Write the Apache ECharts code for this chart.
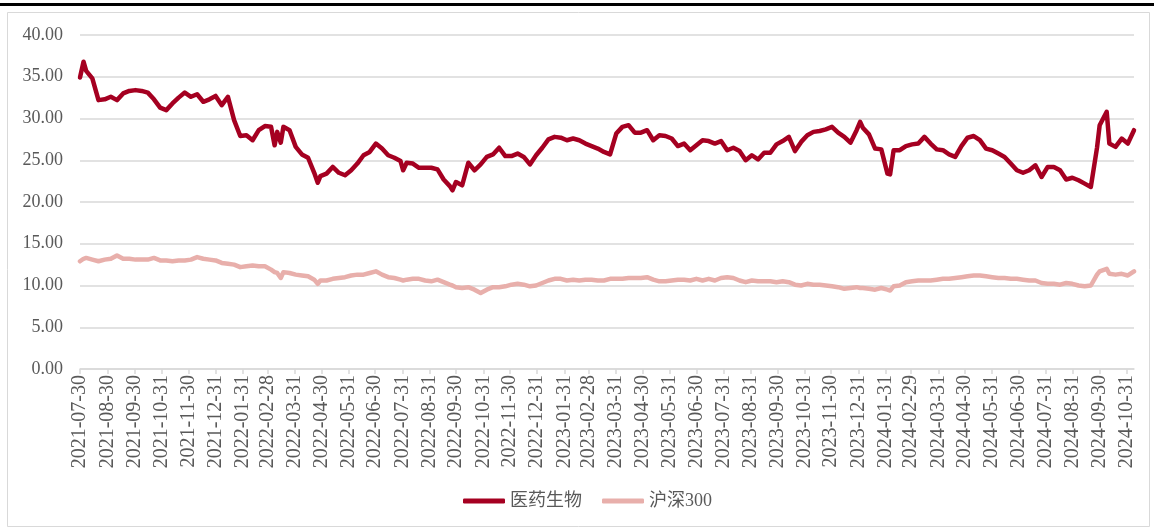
<!DOCTYPE html>
<html>
<head>
<meta charset="utf-8">
<script src="https://cdn.jsdelivr.net/npm/echarts@6/dist/echarts.min.js"></script>
<style>
html,body{margin:0;padding:0;background:#fff;}
#chart{width:1154px;height:528px;}
</style>
</head>
<body>
<div id="chart"></div>
<script>
// ---- data ----
const seriesNames = ['医药生物', '沪深300'];

const dates = [
'2021-07-30','2021-08-03','2021-08-06','2021-08-13','2021-08-20','2021-08-27','2021-09-03','2021-09-10','2021-09-17','2021-09-24',
'2021-10-01','2021-10-08','2021-10-15','2021-10-22','2021-10-29','2021-11-05','2021-11-12','2021-11-19','2021-11-26','2021-12-03',
'2021-12-10','2021-12-17','2021-12-24','2021-12-31','2022-01-07','2022-01-14','2022-01-21','2022-01-28','2022-02-04','2022-02-11',
'2022-02-18','2022-02-25','2022-03-04','2022-03-08','2022-03-11','2022-03-15','2022-03-18','2022-03-25','2022-04-01','2022-04-08',
'2022-04-15','2022-04-22','2022-04-26','2022-04-29','2022-05-06','2022-05-13','2022-05-20','2022-05-27','2022-06-03','2022-06-10',
'2022-06-17','2022-06-24','2022-07-01','2022-07-08','2022-07-15','2022-07-22','2022-07-29','2022-08-01','2022-08-05','2022-08-12',
'2022-08-19','2022-08-26','2022-09-02','2022-09-09','2022-09-16','2022-09-23','2022-09-26','2022-09-30','2022-10-07','2022-10-14',
'2022-10-21','2022-10-28','2022-11-04','2022-11-11','2022-11-18','2022-11-25','2022-12-02','2022-12-09','2022-12-16','2022-12-23',
'2022-12-30','2023-01-06','2023-01-13','2023-01-20','2023-01-27','2023-02-03','2023-02-10','2023-02-17','2023-02-24','2023-03-03',
'2023-03-10','2023-03-17','2023-03-24','2023-03-31','2023-04-07','2023-04-14','2023-04-21','2023-04-28','2023-05-05','2023-05-12',
'2023-05-19','2023-05-26','2023-06-02','2023-06-09','2023-06-16','2023-06-23','2023-06-30','2023-07-07','2023-07-14','2023-07-21',
'2023-07-28','2023-08-04','2023-08-11','2023-08-18','2023-08-25','2023-09-01','2023-09-08','2023-09-15','2023-09-22','2023-09-29',
'2023-10-06','2023-10-13','2023-10-20','2023-10-27','2023-11-03','2023-11-10','2023-11-17','2023-11-24','2023-12-01','2023-12-08',
'2023-12-15','2023-12-22','2023-12-29','2024-01-02','2024-01-05','2024-01-12','2024-01-19','2024-01-26','2024-02-02','2024-02-05',
'2024-02-09','2024-02-16','2024-02-23','2024-03-01','2024-03-08','2024-03-15','2024-03-22','2024-03-29','2024-04-05','2024-04-12',
'2024-04-19','2024-04-26','2024-05-03','2024-05-10','2024-05-17','2024-05-24','2024-05-31','2024-06-07','2024-06-14','2024-06-21',
'2024-06-28','2024-07-05','2024-07-12','2024-07-19','2024-07-26','2024-08-02','2024-08-09','2024-08-16','2024-08-23','2024-08-30',
'2024-09-06','2024-09-13','2024-09-20','2024-09-27','2024-09-30','2024-10-08','2024-10-11','2024-10-18','2024-10-25','2024-11-01',
'2024-11-08'
];

const pharma = [
34.9,36.8,35.7,34.8,32.2,32.3,32.6,32.2,33.0,33.3,
33.4,33.3,33.1,32.3,31.3,31.0,31.8,32.5,33.1,32.6,
32.9,32.0,32.3,32.7,31.6,32.6,29.8,27.9,28.0,27.4,
28.6,29.1,29.0,26.8,28.4,27.1,29.0,28.6,26.6,25.7,
25.3,23.5,22.3,23.1,23.4,24.2,23.5,23.2,23.8,24.6,
25.6,26.0,27.0,26.4,25.6,25.3,24.9,23.8,24.7,24.6,
24.1,24.1,24.1,23.9,22.7,21.9,21.4,22.4,22.0,24.7,
23.8,24.5,25.4,25.7,26.5,25.5,25.5,25.8,25.4,24.5,
25.6,26.5,27.5,27.8,27.7,27.4,27.6,27.4,27.0,26.7,
26.4,26.0,25.7,28.2,29.0,29.2,28.3,28.3,28.6,27.4,
28.0,27.9,27.6,26.7,27.0,26.2,26.8,27.4,27.3,27.0,
27.3,26.2,26.5,26.1,25.0,25.6,25.1,25.9,25.9,26.9,
27.3,27.8,26.1,27.2,28.0,28.4,28.5,28.7,29.0,28.3,
27.8,27.1,28.6,29.6,28.9,28.1,26.4,26.3,23.4,23.3,
26.2,26.2,26.7,26.9,27.0,27.8,27.0,26.3,26.2,25.7,
25.4,26.7,27.7,27.9,27.4,26.4,26.2,25.8,25.4,24.6,
23.8,23.5,23.8,24.4,23.0,24.2,24.2,23.8,22.7,22.9,
22.6,22.2,21.8,26.5,29.2,30.8,27.0,26.6,27.6,27.0,
28.6
];

const csi300 = [
12.9,13.2,13.3,13.1,12.9,13.1,13.2,13.6,13.2,13.2,
13.1,13.1,13.1,13.3,13.0,13.0,12.9,13.0,13.0,13.1,
13.4,13.2,13.1,13.0,12.7,12.6,12.5,12.2,12.3,12.4,
12.3,12.3,11.9,11.6,11.5,10.9,11.6,11.5,11.3,11.2,
11.1,10.7,10.2,10.6,10.6,10.8,10.9,11.0,11.2,11.3,
11.3,11.5,11.7,11.3,11.0,10.9,10.7,10.6,10.7,10.8,
10.8,10.6,10.5,10.7,10.4,10.1,10.0,9.8,9.7,9.8,
9.5,9.1,9.5,9.8,9.8,9.9,10.1,10.2,10.1,9.9,
10.0,10.3,10.6,10.8,10.8,10.6,10.7,10.6,10.7,10.7,
10.6,10.6,10.8,10.8,10.8,10.9,10.9,10.9,11.0,10.7,
10.5,10.5,10.6,10.7,10.7,10.6,10.8,10.6,10.8,10.6,
10.9,11.0,10.9,10.6,10.4,10.6,10.5,10.5,10.5,10.4,
10.5,10.4,10.1,10.0,10.2,10.1,10.1,10.0,9.9,9.8,
9.6,9.7,9.8,9.7,9.7,9.6,9.5,9.7,9.5,9.4,
9.9,10.0,10.4,10.5,10.6,10.6,10.6,10.7,10.8,10.8,
10.9,11.0,11.1,11.2,11.2,11.1,11.0,10.9,10.9,10.8,
10.8,10.7,10.6,10.6,10.3,10.2,10.2,10.1,10.3,10.2,
10.0,9.9,10.0,11.3,11.7,12.0,11.4,11.3,11.4,11.2,
11.7
];

const tickLabels = [
'2021-07-30','2021-08-30','2021-09-30','2021-10-31','2021-11-30','2021-12-31','2022-01-31','2022-02-28',
'2022-03-31','2022-04-30','2022-05-31','2022-06-30','2022-07-31','2022-08-31','2022-09-30','2022-10-31',
'2022-11-30','2022-12-31','2023-01-31','2023-02-28','2023-03-31','2023-04-30','2023-05-31','2023-06-30',
'2023-07-31','2023-08-31','2023-09-30','2023-10-31','2023-11-30','2023-12-31','2024-01-31','2024-02-29',
'2024-03-31','2024-04-30','2024-05-31','2024-06-30','2024-07-31','2024-08-31','2024-09-30','2024-10-31'
];

const yTicks = [0, 5, 10, 15, 20, 25, 30, 35, 40];

// ---- helpers ----
function ts(s) {
  const p = s.split('-').map(Number);
  return Date.UTC(p[0], p[1] - 1, p[2]);
}
const tickTs = tickLabels.map(ts);
const labelByTs = {};
tickLabels.forEach((l, i) => { labelByTs[tickTs[i]] = l; });

const redData = dates.map((d, i) => [ts(d), pharma[i]]);
const pinkData = dates.map((d, i) => [ts(d), csi300[i]]);

const serif = "'Liberation Serif', 'Noto Sans CJK SC', serif";

const chart = echarts.init(document.getElementById('chart'), null, {renderer: 'canvas'});
chart.setOption({
  animation: false,
  backgroundColor: '#ffffff',
  graphic: [
    {type: 'rect', shape: {x: 0, y: 3, width: 1154, height: 3}, style: {fill: '#000000'}, silent: true},
    {type: 'rect', shape: {x: 7.5, y: 12.5, width: 1142, height: 514}, style: {fill: null, stroke: '#D9D9D9', lineWidth: 1}, silent: true}
  ],
  grid: {left: 80, right: 20, top: 35, bottom: 159, containLabel: false},
  legend: {
    data: seriesNames,
    left: 458,
    top: 487,
    itemWidth: 42,
    itemHeight: 5,
    itemGap: 20,
    icon: 'roundRect',
    textStyle: {fontFamily: serif, fontSize: 18, color: '#595959'}
  },
  xAxis: {
    type: 'value',
    min: ts('2021-07-30'),
    max: ts('2024-11-08'),
    axisLine: {show: true, lineStyle: {color: '#D9D9D9', width: 1.5}},
    axisTick: {show: true, length: 5, customValues: tickTs, lineStyle: {color: '#D9D9D9', width: 1.5}},
    splitLine: {show: false},
    axisLabel: {
      customValues: tickTs,
      rotate: 90,
      margin: 6,
      fontFamily: serif,
      fontSize: 20,
      color: '#595959',
      hideOverlap: false,
      formatter: function (v) { return labelByTs[v] || ''; }
    }
  },
  yAxis: {
    type: 'value',
    min: yTicks[0],
    max: yTicks[yTicks.length - 1],
    interval: 5,
    axisLine: {show: false},
    axisTick: {show: false},
    splitLine: {show: true, lineStyle: {color: '#D9D9D9', width: 1.5}},
    axisLabel: {
      margin: 17,
      fontFamily: serif,
      fontSize: 18,
      color: '#595959',
      formatter: function (v) { return v.toFixed(2); }
    }
  },
  series: [
    {
      name: seriesNames[0], type: 'line', data: redData, showSymbol: false, symbol: 'none',
      lineStyle: {color: '#A50021', width: 4.5, join: 'round', cap: 'round'},
      itemStyle: {color: '#A50021'}, z: 3
    },
    {
      name: seriesNames[1], type: 'line', data: pinkData, showSymbol: false, symbol: 'none',
      lineStyle: {color: '#E8AFAB', width: 4.5, join: 'round', cap: 'round'},
      itemStyle: {color: '#E8AFAB'}, z: 2
    }
  ]
});
</script>
</body>
</html>
